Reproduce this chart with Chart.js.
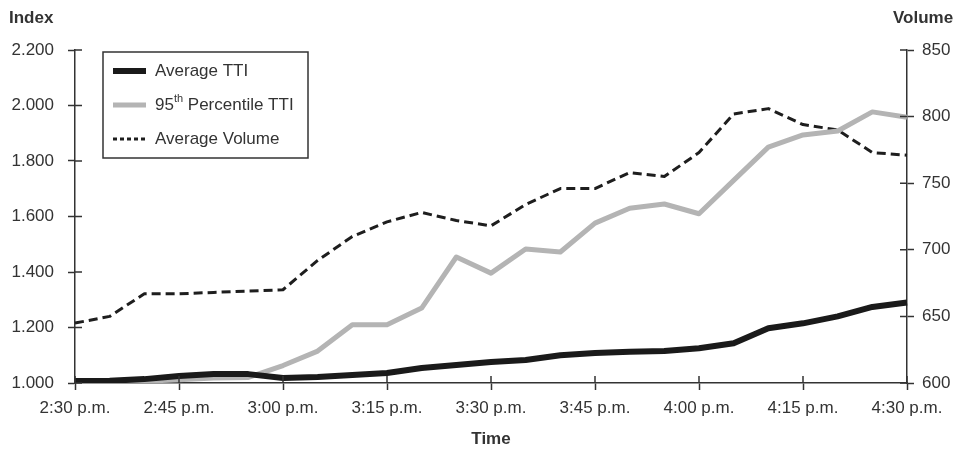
<!DOCTYPE html>
<html>
<head>
<meta charset="utf-8">
<script src="https://cdn.jsdelivr.net/npm/chart.js@4/dist/chart.umd.min.js"></script>
<style>
  body { margin: 0; background: #fff; }
  canvas { display: block; }
</style>
</head>
<body>
<canvas id="ttiChart" width="953" height="453"></canvas>
<script>
// horários a cada 5 minutos
const times = ['2:30 p.m.', '2:35 p.m.', '2:40 p.m.', '2:45 p.m.', '2:50 p.m.', '2:55 p.m.',
  '3:00 p.m.', '3:05 p.m.', '3:10 p.m.', '3:15 p.m.', '3:20 p.m.', '3:25 p.m.',
  '3:30 p.m.', '3:35 p.m.', '3:40 p.m.', '3:45 p.m.', '3:50 p.m.', '3:55 p.m.',
  '4:00 p.m.', '4:05 p.m.', '4:10 p.m.', '4:15 p.m.', '4:20 p.m.', '4:25 p.m.', '4:30 p.m.'];

const avgTTI = [1.007, 1.008, 1.014, 1.025, 1.032, 1.032, 1.018, 1.022, 1.029, 1.036, 1.054, 1.065,
  1.076, 1.083, 1.100, 1.108, 1.113, 1.115, 1.125, 1.143, 1.197, 1.215, 1.240, 1.274, 1.290];

const p95TTI = [1.005, 1.005, 1.006, 1.012, 1.018, 1.020, 1.063, 1.115, 1.210, 1.210, 1.270, 1.454,
  1.396, 1.483, 1.472, 1.576, 1.630, 1.645, 1.610, 1.730, 1.850, 1.894, 1.908, 1.977, 1.958];

const avgVolume = [645, 650, 667, 667, 668, 669, 670, 692, 710, 721, 728, 722,
  718, 734, 746, 746, 758, 755, 773, 802, 806, 794, 790, 773, 771];

const FONT = "'Liberation Sans', Arial, sans-serif";
const INK = '#333';

// marcas de escala para dentro da área do gráfico
const innerTicks = {
  id: 'innerTicks',
  afterDatasetsDraw(chart) {
    const ctx = chart.ctx;
    const a = chart.chartArea;
    ctx.save();
    ctx.strokeStyle = INK;
    ctx.lineWidth = 1.5;
    ctx.beginPath();
    chart.scales.y.ticks.forEach((t, i) => {
      const y = chart.scales.y.getPixelForTick(i);
      ctx.moveTo(a.left, y); ctx.lineTo(a.left + 7, y);
    });
    chart.scales.y1.ticks.forEach((t, i) => {
      const y = chart.scales.y1.getPixelForTick(i);
      ctx.moveTo(a.right - 7, y); ctx.lineTo(a.right, y);
    });
    chart.scales.x.ticks.forEach((t, i) => {
      if (i % 3 !== 0) return;
      const x = chart.scales.x.getPixelForTick(i);
      ctx.moveTo(x, a.bottom); ctx.lineTo(x, a.bottom - 7);
    });
    ctx.stroke();
    ctx.restore();
  }
};

// legenda com caixa e títulos dos eixos
const boxLegend = {
  id: 'boxLegend',
  afterDraw(chart) {
    const ctx = chart.ctx;
    ctx.save();
    ctx.fillStyle = INK;
    ctx.font = 'bold 17px ' + FONT;
    ctx.textBaseline = 'middle';
    ctx.textAlign = 'left';
    ctx.fillText('Index', 9, 18);
    ctx.fillText('Volume', 893, 18);

    ctx.strokeStyle = INK;
    ctx.lineWidth = 1.5;
    ctx.fillStyle = '#fff';
    ctx.fillRect(103, 52, 205, 106);
    ctx.strokeRect(103, 52, 205, 106);

    const rows = [71, 105, 139];
    chart.data.datasets.forEach((ds, i) => {
      const y = rows[i];
      ctx.beginPath();
      ctx.strokeStyle = ds.borderColor;
      ctx.lineWidth = ds.borderWidth;
      ctx.setLineDash(ds.borderDash ? [4, 3] : []);
      ctx.moveTo(113, y); ctx.lineTo(146, y);
      ctx.stroke();
      ctx.setLineDash([]);

      ctx.fillStyle = INK;
      ctx.font = '17px ' + FONT;
      const m = ds.label.match(/^(\d+)(th)(.*)$/);
      if (m) {
        let x = 155;
        ctx.fillText(m[1], x, y);
        x += ctx.measureText(m[1]).width;
        ctx.font = '11px ' + FONT;
        ctx.fillText(m[2], x, y - 6);
        x += ctx.measureText(m[2]).width;
        ctx.font = '17px ' + FONT;
        ctx.fillText(m[3], x, y);
      } else {
        ctx.fillText(ds.label, 155, y);
      }
    });
    ctx.restore();
  }
};

const data = {
  labels: times,
  datasets: [
    { label: 'Average TTI', data: avgTTI, yAxisID: 'y',
      borderColor: '#1a1a1a', borderWidth: 6 },
    { label: '95th Percentile TTI', data: p95TTI, yAxisID: 'y',
      borderColor: '#b4b4b4', borderWidth: 5 },
    { label: 'Average Volume', data: avgVolume, yAxisID: 'y1',
      borderColor: '#1e1e1e', borderWidth: 3, borderDash: [9, 5] }
  ]
};

const config = {
  type: 'line',
  data: data,
  options: {
    responsive: false,
    animation: false,
    devicePixelRatio: 1,
    layout: { padding: { top: 50, left: 0, right: 0, bottom: 0 } },
    elements: {
      point: { radius: 0 },
      line: { tension: 0, borderJoinStyle: 'round', fill: false }
    },
    plugins: {
      legend: { display: false },
      tooltip: { enabled: false }
    },
    scales: {
      x: {
        offset: false,
        border: { color: INK, width: 1.5 },
        grid: {
          drawOnChartArea: false, tickLength: 7, tickWidth: 1.5,
          tickColor: c => (c.index % 3 === 0 ? INK : 'rgba(0,0,0,0)')
        },
        ticks: {
          autoSkip: false, maxRotation: 0, padding: 8,
          color: INK, font: { family: FONT, size: 17 },
          callback: function (v, i) { return i % 3 === 0 ? times[i] : ''; }
        },
        title: {
          display: true, text: 'Time', color: INK,
          font: { family: FONT, size: 17, weight: 'bold' },
          padding: { top: 4, bottom: 3 }
        },
        afterFit: s => { s.height = 70; }
      },
      y: {
        position: 'left',
        min: 1, max: 2.2,
        border: { color: INK, width: 1.5 },
        grid: { drawOnChartArea: false, tickLength: 7, tickWidth: 1.5, tickColor: INK },
        ticks: {
          stepSize: 0.2, padding: 14, color: INK,
          font: { family: FONT, size: 17 },
          callback: v => v.toFixed(3)
        },
        afterFit: s => { s.width = 75; }
      },
      y1: {
        position: 'right',
        min: 600, max: 850,
        border: { color: INK, width: 1.5 },
        grid: { drawOnChartArea: false, tickLength: 7, tickWidth: 1.5, tickColor: INK },
        ticks: {
          stepSize: 50, padding: 8, color: INK,
          font: { family: FONT, size: 17 }
        },
        afterFit: s => { s.width = 46; }
      }
    }
  },
  plugins: [innerTicks, boxLegend]
};

const ctx = document.getElementById('ttiChart').getContext('2d');
const ttiChart = new Chart(ctx, config);
</script>
</body>
</html>
